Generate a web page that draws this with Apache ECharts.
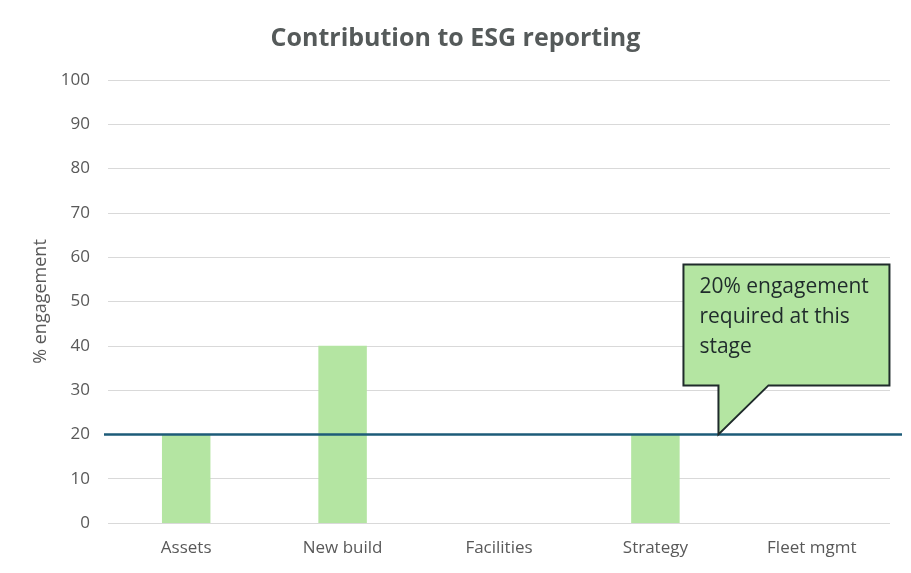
<!DOCTYPE html>
<html lang="en">
<head>
    <meta charset="UTF-8">
    <title>Contribution to ESG reporting</title>
    <style>
        html,body{
            width: 100%;
            height: 100%;
            margin: 0;
            padding: 0;
            background: #fff;
        }
    </style>
</head>
<body>
<div id="main" style="width: 911px;height:573px;"></div>

<script src="https://cdn.jsdelivr.net/npm/echarts@6/dist/echarts.min.js"></script>
<script>
    var categories = ['Assets', 'New build', 'Facilities', 'Strategy', 'Fleet mgmt'];
    var engagement = [20, 40, 0, 20, 0];
    var target = 20;
    var calloutText = '20% engagement\nrequired at this\nstage';

    var font = '"Open Sans", sans-serif';
    var myChart = echarts.init(document.getElementById('main'));

    var option = {
        animation: false,
        title: {
            text: 'Contribution to ESG reporting',
            left: 'center',
            top: 21,
            textStyle: {
                fontFamily: font,
                fontSize: 25,
                fontWeight: 'bold',
                color: '#555a5a'
            }
        },
        grid: [
            {left: 108, right: 21, top: 80, bottom: 50},
            // wider grid only for the target line, which runs past the gridlines
            {left: 104, right: 9, top: 80, bottom: 50}
        ],
        xAxis: [
            {
                type: 'category',
                data: categories,
                gridIndex: 0,
                axisLine: {show: false},
                axisTick: {show: false},
                axisLabel: {
                    fontFamily: font,
                    fontSize: 17,
                    color: '#595959',
                    margin: 17
                }
            },
            {
                type: 'value',
                gridIndex: 1,
                show: false,
                min: 0,
                max: 1
            }
        ],
        yAxis: [
            {
                type: 'value',
                gridIndex: 0,
                min: 0,
                max: 100,
                interval: 10,
                name: '% engagement',
                nameLocation: 'middle',
                nameGap: 56,
                nameTextStyle: {
                    fontFamily: font,
                    fontSize: 18,
                    color: '#595959'
                },
                axisLine: {show: false},
                axisTick: {show: false},
                axisLabel: {
                    fontFamily: font,
                    fontSize: 17,
                    color: '#595959',
                    margin: 18
                },
                splitLine: {lineStyle: {color: '#d9d9d9', width: 1}}
            },
            {
                type: 'value',
                gridIndex: 1,
                show: false,
                min: 0,
                max: 100
            }
        ],
        series: [
            {
                type: 'bar',
                data: engagement,
                xAxisIndex: 0,
                yAxisIndex: 0,
                barWidth: '31%',
                itemStyle: {color: '#b4e5a2'}
            },
            {
                type: 'line',
                data: [],
                xAxisIndex: 1,
                yAxisIndex: 1,
                markLine: {
                    silent: true,
                    symbol: 'none',
                    label: {show: false},
                    lineStyle: {color: '#1d5b78', width: 2.5, type: 'solid'},
                    data: [{yAxis: target}]
                }
            }
        ]
    };
    myChart.setOption(option);

    // callout pointing at the target line
    var tipX = myChart.convertToPixel({xAxisIndex: 1}, 0.77);
    var tipY = myChart.convertToPixel({yAxisIndex: 1}, target);
    var boxL = tipX - 35, boxR = tipX + 171;
    var boxT = tipY - 170, boxB = tipY - 49;
    myChart.setOption({
        graphic: [
            {
                type: 'polygon',
                shape: {
                    points: [
                        [boxL, boxT], [boxR, boxT], [boxR, boxB],
                        [tipX + 50, boxB], [tipX, tipY], [tipX, boxB],
                        [boxL, boxB]
                    ]
                },
                style: {fill: '#b4e5a2', stroke: '#1f2b2b', lineWidth: 2},
                z: 10
            },
            {
                type: 'text',
                x: boxL + 16,
                y: boxT + 8,
                style: {
                    text: calloutText,
                    fontFamily: font,
                    fontSize: 21,
                    lineHeight: 30,
                    fill: '#1f2b2b'
                },
                z: 11
            }
        ]
    });
</script>
</body>
</html>
